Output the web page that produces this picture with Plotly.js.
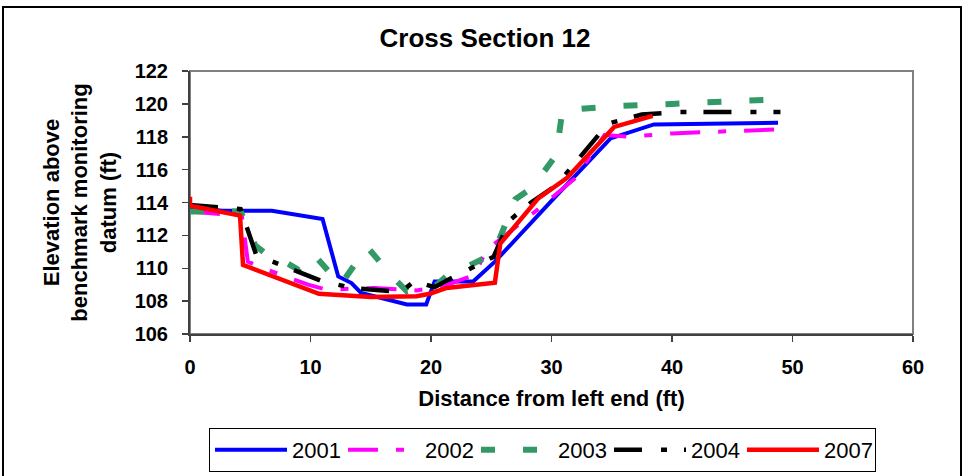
<!DOCTYPE html>
<html>
<head>
<meta charset="utf-8">
<script src="https://cdn.plot.ly/plotly-3.0.1.min.js"></script>
<style>html,body{margin:0;padding:0;background:#fff;}#chart{width:967px;height:476px;}</style>
</head>
<body>
<div id="chart"></div>
<script>
// Series names
var seriesNames = ['2001', '2002', '2003', '2004', '2007'];

// 2001
var x2001 = [0, 2.7, 6.8, 11.0, 12.3, 13.4, 14.2, 15.8, 18.0, 19.6, 20.3, 23.5, 25.3, 30.0, 34.9, 38.5, 48.8];
var y2001 = [113.7, 113.5, 113.5, 113.0, 109.5, 109.1, 108.5, 108.2, 107.8, 107.8, 109.2, 109.2, 110.4, 114.1, 117.9, 118.75, 118.85];

// 2002
var x2002 = [0, 4.3, 4.8, 6.1, 9.8, 11.3, 15.3, 18.8, 21.0, 23.6, 24.6, 25.6, 27.2, 28.9, 32.0, 34.4, 36.4, 40.0, 48.8];
var y2002 = [113.45, 113.2, 110.4, 110.0, 109.0, 108.7, 108.8, 108.65, 108.9, 109.6, 111.1, 111.7, 112.6, 113.6, 115.5, 118.1, 118.0, 118.2, 118.45];

// 2003
var x2003 = [0, 4.2, 5.4, 6.6, 7.6, 9.0, 10.2, 12.5, 14.7, 16.9, 18.0, 20.5, 22.0, 23.0, 25.2, 27.0, 28.4, 30.4, 30.9, 35.0, 40.0, 45.0, 49.5];
var y2003 = [113.45, 113.45, 111.4, 110.7, 110.5, 109.9, 110.9, 109.0, 111.3, 109.4, 108.6, 109.0, 110.0, 110.1, 110.9, 114.2, 114.9, 116.9, 119.6, 119.85, 120.0, 120.2, 120.3];

// 2004
var x2004 = [0, 4.2, 5.5, 11.0, 13.5, 17.5, 18.6, 20.3, 21.7, 25.2, 26.5, 28.3, 30.4, 34.7, 37.5, 40.5, 49.0];
var y2004 = [113.85, 113.6, 110.8, 109.2, 108.8, 108.55, 109.2, 108.85, 109.4, 110.7, 112.9, 114.0, 115.05, 118.8, 119.35, 119.5, 119.5];

// 2007
var x2007 = [0, 0, 4.15, 4.4, 10.7, 15.0, 18.8, 19.9, 21.3, 25.3, 25.75, 28.9, 31.3, 35.2, 38.4];
var y2007 = [114.35, 113.8, 113.2, 110.2, 108.45, 108.25, 108.3, 108.45, 108.8, 109.12, 111.5, 114.25, 115.5, 118.6, 119.27];

// Axis ticks
var xTicks = [0, 10, 20, 30, 40, 50, 60];
var yTicks = [106, 108, 110, 112, 114, 116, 118, 120, 122];

var FONT = 'Arial, "Liberation Sans", sans-serif';

var traces = [
  {x: x2001, y: y2001, name: seriesNames[0], mode: 'lines', line: {color: '#0000FF', width: 4}},
  {x: x2002, y: y2002, name: seriesNames[1], mode: 'lines', line: {color: '#FF00FF', width: 4, dash: '30px,18px,8px,18px'}},
  {x: x2003, y: y2003, name: seriesNames[2], mode: 'lines', line: {color: '#339966', width: 6, dash: '14px,28px'}},
  {x: x2004, y: y2004, name: seriesNames[3], mode: 'lines', line: {color: '#000000', width: 4.5, dash: '28px,19px,6px,17px'}},
  {x: x2007, y: y2007, name: seriesNames[4], mode: 'lines', line: {color: '#FF0000', width: 4.5}}
];

var W = 967, H = 476, L = 190, R = 54, T = 71, B = 142;
var pw = W - L - R, ph = H - T - B;
function px2paperX(p) { return (p - L) / pw; }
function px2paperY(p) { return (H - B - p) / ph; }

var layout = {
  width: W, height: H,
  margin: {l: L, r: R, t: T, b: B, autoexpand: false},
  paper_bgcolor: '#ffffff', plot_bgcolor: '#ffffff',
  font: {family: FONT, color: '#000000'},
  title: {text: 'Cross Section 12', font: {size: 26, family: FONT, color: '#000', weight: 'bold'}, x: 0.5016, xanchor: 'center', y: 0.92, yanchor: 'middle'},
  xaxis: {
    range: [0, 60], tickvals: xTicks, ticktext: xTicks.map(String),
    showgrid: false, zeroline: false, showline: true, linecolor: '#404040', linewidth: 2,
    ticks: 'outside', ticklen: 6, tickwidth: 1.5, tickcolor: '#404040',
    tickfont: {size: 20, family: FONT, weight: 'bold'}, ticklabelstandoff: 8,
    title: {text: 'Distance from left end (ft)', font: {size: 22, family: FONT, weight: 'bold'}, standoff: 14},
    fixedrange: true
  },
  yaxis: {
    range: [106, 122], tickvals: yTicks, ticktext: yTicks.map(String),
    showgrid: false, zeroline: false, showline: true, linecolor: '#404040', linewidth: 2,
    ticks: 'outside', ticklen: 6, tickwidth: 1.5, tickcolor: '#404040',
    tickfont: {size: 20, family: FONT, weight: 'bold'}, ticklabelstandoff: 10,
    title: {text: 'Elevation above<br>benchmark monitoring<br>datum (ft)', font: {size: 22, family: FONT, weight: 'bold'}, standoff: 12},
    fixedrange: true
  },
  showlegend: true,
  legend: {
    orientation: 'h', xref: 'container', yref: 'container',
    x: 209 / W, xanchor: 'left', y: 1 - 428 / H, yanchor: 'top',
    bgcolor: '#ffffff', bordercolor: '#000000', borderwidth: 1,
    font: {size: 22, family: FONT}, entrywidth: 46, itemwidth: 72, traceorder: 'normal'
  },
  shapes: [
    {type: 'rect', xref: 'paper', yref: 'paper', x0: 0, x1: 1, y0: 0, y1: 1, line: {color: '#808080', width: 2}, layer: 'below'},
    {type: 'rect', xref: 'paper', yref: 'paper', x0: px2paperX(3), x1: px2paperX(961), y0: px2paperY(7), y1: px2paperY(495), line: {color: '#000000', width: 2}, layer: 'above'}
  ]
};

Plotly.newPlot('chart', traces, layout, {staticPlot: true, displayModeBar: false});
</script>
</body>
</html>
